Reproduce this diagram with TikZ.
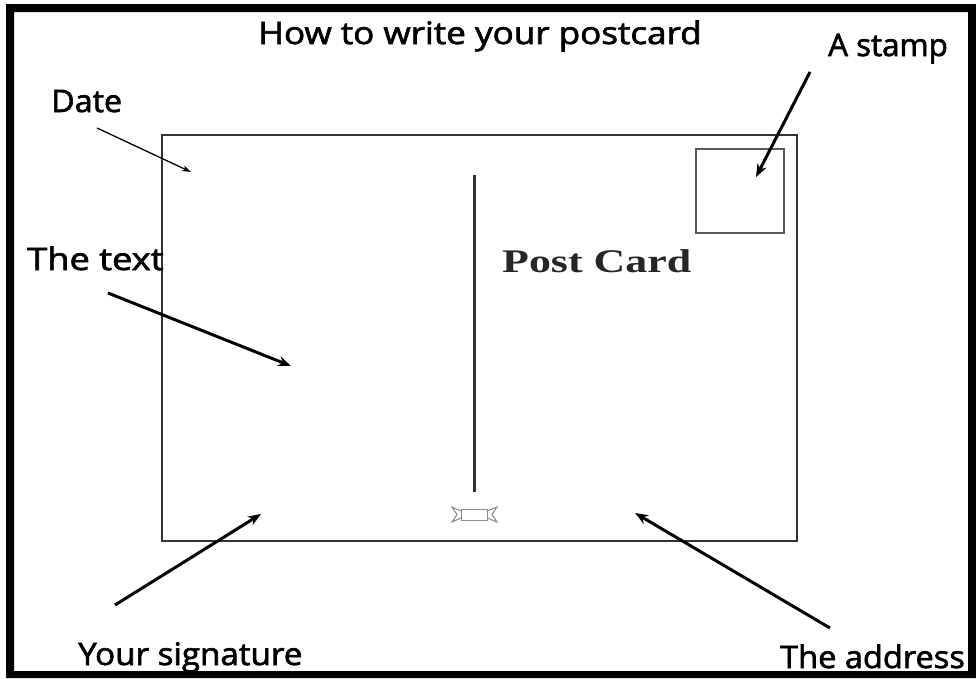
\documentclass[tikz,border=0pt]{standalone}
\usepackage{fontspec}
\setmainfont{Liberation Serif}
\newfontfamily\handfont[FakeBold=2]{Open Sans}
\usetikzlibrary{arrows.meta}
\tikzset{
  lbl/.style={font=\handfont\fontsize{31}{34}\selectfont, inner sep=0pt, anchor=base west, text=black},
  ptr/.style={line width=3pt, -{Stealth[length=13pt,width=10pt]}},
  thinptr/.style={line width=1.3pt, -{Stealth[length=9pt,width=6pt]}},
  cardbox/.style={draw=black!80, line width=2.8pt, inner sep=0pt},
  stampbox/.style={draw=black!65, line width=1.6pt, inner sep=0pt},
  divider/.style={draw=black!80, line width=3pt},
  ribbon/.style={draw=black!45, line width=1pt}
}
\begin{document}
\begin{tikzpicture}[x=1pt,y=-1pt]
\useasboundingbox (0,0) rectangle (976,678);
\fill[white] (0,0) rectangle (976,678);
\fill[black, even odd rule] (6,4) rectangle (976,678) (14,12) rectangle (968,671);

% postcard
\node[cardbox, minimum width=635pt, minimum height=406pt] (card) at (479.5,338) {};
\node[stampbox, minimum width=88pt, minimum height=84pt] (stamp) at (740,191) {};
\coordinate (divtop) at (474,175);
\coordinate (divbot) at (474,492);
\draw[divider] (divtop) -- (divbot);
\draw[ribbon] (461,509) rectangle (487,520);
\draw[ribbon] (461,511) -- (452,507) -- (457,514.5) -- (452,522) -- (461,518);
\draw[ribbon] (487,511) -- (497,507) -- (492,514.5) -- (497,522) -- (487,518);
\node[inner sep=0pt, anchor=base west, font=\bfseries\fontsize{33}{36}\selectfont, text=black!85] (pc) at (502,272) {\scalebox{1.33}[1]{Post Card}};

% labels
\node[lbl] (title) at (258,44) {\scalebox{1.13}[1]{How to write your postcard}};
\node[lbl] (lstamp) at (828,56) {\scalebox{1.01}[1]{A stamp}};
\node[lbl] (ldate) at (51,112) {\scalebox{1.04}[1]{Date}};
\node[lbl] (ltext) at (27,270) {\scalebox{1.17}[1]{The text}};
\node[lbl] (lsig) at (78,665) {\scalebox{1.07}[1]{Your signature}};
\node[lbl] (laddr) at (780,668) {\scalebox{1.05}[1]{The address}};

% arrows
\coordinate (a1s) at (97,128);  \coordinate (a1e) at (191,172);
\coordinate (a2s) at (810,72);  \coordinate (a2e) at (756,177);
\coordinate (a3s) at (108,293); \coordinate (a3e) at (291,366);
\coordinate (a4s) at (115,605); \coordinate (a4e) at (261,514);
\coordinate (a5s) at (830,628); \coordinate (a5e) at (635,513);
\draw[thinptr] (a1s) -- (a1e);
\draw[ptr] (a2s) -- (a2e);
\draw[ptr] (a3s) -- (a3e);
\draw[ptr] (a4s) -- (a4e);
\draw[ptr] (a5s) -- (a5e);
\end{tikzpicture}
\end{document}
